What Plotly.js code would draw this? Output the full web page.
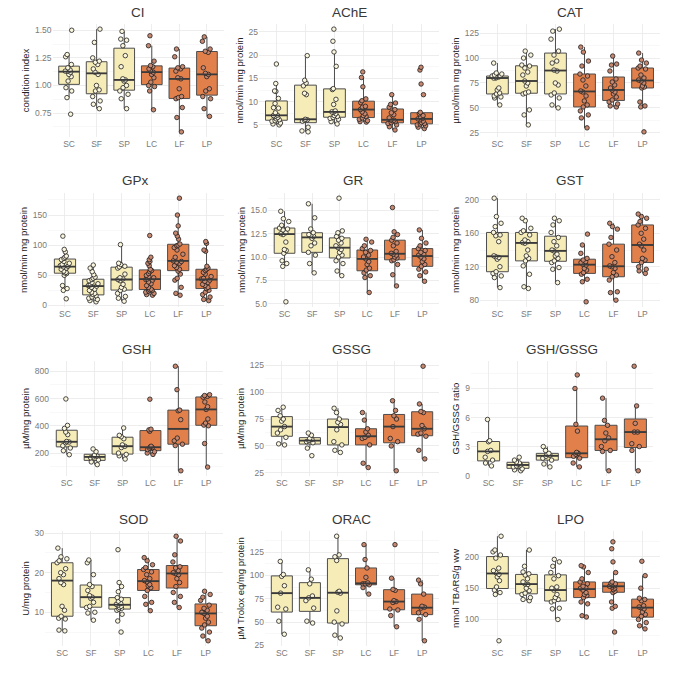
<!DOCTYPE html>
<html>
<head>
<meta charset="utf-8">
<script src="https://cdn.plot.ly/plotly-3.0.1.min.js"></script>
<style>
  html, body { margin: 0; padding: 0; background: #fff; }
  #chart { width: 677px; height: 673px; }
</style>
</head>
<body>
<div id="chart"></div>
<script>
// Groups shown on every panel
const groups = ['SC', 'SF', 'SP', 'LC', 'LF', 'LP'];

// Panel titles and y-axis labels
const panelTitles = ['CI', 'AChE', 'CAT', 'GPx', 'GR', 'GST', 'GSH', 'GSSG', 'GSH/GSSG', 'SOD', 'ORAC', 'LPO'];
const yTitles = ['condition index', 'nmol/min mg protein', 'µmol/min mg protein',
  'nmol/min mg protein', 'nmol/min mg protein', 'nmol/min mg protein',
  'µM/mg protein', 'µM/mg protein', 'GSH/GSSG ratio',
  'U/mg protein', 'µM Trolox eq/mg protein', 'nmol TBARS/g ww'];
const yTickStep = [0.25, 5, 25, 50, 2.5, 40, 200, 25, 3, 10, 25, 50];
const yTickFormat = ['.2f', '', '', '', '.1f', '', '', '', '', '', '', ''];

// Individual measurements, one array per group (SC, SF, SP, LC, LF, LP)
const CI = [
  [1.50, 1.28, 1.26, 1.19, 1.16, 1.14, 1.13, 1.13, 1.12, 1.10, 1.08, 1.04, 0.98, 0.95, 0.89, 0.74],
  [0.79, 0.83, 0.86, 0.90, 0.95, 0.96, 1.00, 1.10, 1.12, 1.15, 1.19, 1.21, 1.22, 1.25, 1.39, 1.51],
  [0.79, 0.88, 0.92, 0.95, 0.98, 1.00, 1.04, 1.05, 1.06, 1.17, 1.27, 1.36, 1.41, 1.42, 1.49],
  [0.78, 0.95, 0.99, 1.00, 1.03, 1.07, 1.10, 1.12, 1.13, 1.15, 1.17, 1.18, 1.22, 1.36, 1.45],
  [0.58, 0.71, 0.80, 0.88, 0.89, 0.90, 0.97, 1.06, 1.07, 1.13, 1.15, 1.16, 1.17, 1.26, 1.33],
  [0.72, 0.79, 0.88, 0.90, 0.95, 0.97, 1.08, 1.10, 1.11, 1.16, 1.30, 1.31, 1.33, 1.40, 1.44]
];
const AChE = [
  [5.0, 5.2, 5.4, 5.8, 5.9, 6.1, 6.3, 6.6, 6.8, 7.0, 7.1, 7.6, 8.6, 8.7, 9.6, 10.7, 12.2, 12.3, 13.9, 18.1],
  [3.5, 3.7, 4.5, 5.8, 6.0, 6.1, 6.2, 11.5, 11.8, 13.4, 14.0, 14.6, 19.9],
  [5.2, 5.7, 6.2, 6.4, 6.6, 6.8, 7.0, 7.4, 7.7, 7.8, 8.0, 9.4, 10.5, 12.6, 12.8, 17.6, 20.7, 23.0, 25.6],
  [5.6, 5.7, 5.9, 6.2, 6.5, 6.8, 7.0, 7.4, 7.8, 8.3, 8.6, 8.8, 9.0, 9.8, 10.2, 10.6, 13.2, 15.2, 16.4],
  [3.9, 4.6, 5.0, 5.3, 5.5, 5.7, 5.9, 6.0, 6.1, 6.5, 7.2, 7.6, 8.3, 8.8, 9.4, 9.7, 11.5],
  [4.2, 4.5, 4.8, 5.0, 5.2, 5.3, 5.5, 5.8, 6.1, 6.3, 6.4, 6.6, 7.0, 7.4, 7.7, 11.5, 13.8, 16.8, 17.4]
];
const CAT = [
  [53, 60, 61, 62, 64, 65, 68, 70, 80, 80, 81, 81, 82, 82, 83, 84, 85, 95],
  [33, 43, 48, 64, 65, 66, 72, 75, 77, 83, 86, 90, 92, 93, 100, 103, 107],
  [50, 53, 60, 63, 65, 73, 75, 87, 88, 95, 97, 103, 107, 119, 127, 129],
  [30, 40, 43, 47, 51, 53, 57, 62, 66, 67, 72, 78, 82, 84, 92, 97, 106, 111],
  [51, 52, 54, 56, 58, 61, 64, 66, 68, 70, 73, 76, 79, 87, 93, 94, 102],
  [26, 51, 52, 56, 70, 71, 72, 75, 77, 78, 80, 83, 89, 90, 92, 95, 98, 105]
];
const GPx = [
  [11, 25, 28, 33, 50, 53, 54, 55, 57, 60, 62, 64, 65, 66, 68, 70, 73, 76, 78, 80, 82, 89, 93, 115],
  [6, 8, 10, 12, 14, 16, 18, 20, 22, 25, 27, 30, 32, 33, 34, 36, 38, 41, 43, 45, 47, 51, 56, 62, 67],
  [7, 12, 15, 20, 25, 27, 30, 35, 41, 43, 44, 46, 52, 62, 64, 65, 68, 70, 101],
  [17, 18, 20, 22, 24, 25, 26, 27, 30, 33, 36, 39, 42, 43, 44, 46, 48, 50, 53, 56, 58, 60, 66, 70, 73, 76, 80, 116],
  [17, 20, 30, 42, 45, 52, 57, 60, 63, 66, 70, 72, 73, 74, 80, 85, 92, 96, 99, 100, 102, 110, 115, 120, 132, 150, 178],
  [8, 10, 14, 18, 22, 25, 28, 30, 33, 35, 38, 40, 42, 44, 45, 48, 52, 55, 58, 60, 62, 65, 90, 92, 103, 106]
];
const GR = [
  [5.2, 9.0, 9.3, 9.6, 10.4, 10.7, 10.8, 11.6, 12.4, 12.5, 12.6, 12.9, 13.0, 13.1, 13.4, 13.8, 14.1, 14.9],
  [8.3, 9.3, 10.2, 10.5, 11.2, 11.5, 12.0, 12.2, 12.3, 12.4, 12.6, 13.0, 14.2, 15.7],
  [8.0, 8.5, 9.3, 9.6, 10.0, 10.2, 10.5, 10.8, 11.0, 11.2, 11.5, 11.8, 12.0, 12.2, 12.6, 12.8, 16.3],
  [6.2, 7.8, 8.0, 8.3, 8.6, 8.8, 9.2, 9.5, 9.8, 10.0, 10.2, 10.5, 10.7, 10.9, 11.2, 11.6, 11.9],
  [6.9, 8.1, 9.2, 9.6, 9.7, 9.9, 10.0, 10.2, 10.3, 10.4, 10.6, 11.2, 11.5, 11.8, 12.1, 12.4, 12.7, 15.3],
  [7.4, 8.0, 8.4, 8.7, 9.0, 9.2, 9.5, 9.8, 10.0, 10.2, 10.3, 10.5, 10.7, 10.9, 11.2, 11.5, 12.0, 12.9]
];
const GST = [
  [95, 107, 109, 112, 114, 120, 129, 131, 132, 133, 150, 157, 158, 161, 168, 172, 180, 202],
  [94, 96, 111, 121, 127, 130, 133, 140, 148, 149, 150, 152, 158, 161, 163, 166, 175, 178],
  [101, 117, 119, 125, 127, 130, 133, 135, 139, 140, 145, 150, 155, 161, 170, 175, 178],
  [78, 102, 105, 111, 113, 116, 118, 122, 123, 125, 126, 128, 130, 136, 146, 159],
  [80, 89, 90, 104, 108, 110, 113, 118, 120, 121, 125, 132, 140, 147, 155, 165, 168, 172],
  [112, 115, 117, 120, 125, 128, 130, 140, 145, 147, 153, 160, 166, 170, 174, 178, 180, 183]
];
const GSH = [
  [188, 217, 237, 254, 276, 281, 285, 335, 354, 381, 403, 597],
  [115, 135, 150, 165, 172, 178, 185, 210, 230],
  [156, 180, 190, 200, 240, 250, 260, 305, 320, 330, 384],
  [190, 200, 210, 225, 235, 240, 245, 250, 360, 370, 375, 595],
  [70, 255, 265, 290, 310, 445, 510, 515, 665, 837],
  [97, 270, 400, 405, 420, 450, 520, 540, 575, 610, 616, 622, 628]
];
const GSSG = [
  [51, 52, 58, 62, 65, 68, 73, 75, 78, 83, 86],
  [41, 48, 53, 54, 55, 56, 57, 60, 62],
  [44, 46, 51, 54, 65, 70, 72, 75, 81, 85],
  [30, 34, 51, 57, 58, 60, 63, 66, 74, 81],
  [27, 50, 54, 57, 68, 75, 78, 83, 92],
  [38, 46, 59, 61, 62, 66, 69, 81, 82, 89, 124]
];
const GSHratio = [
  [1.0, 1.3, 1.6, 1.9, 2.5, 2.6, 3.5, 3.6, 5.8],
  [0.5, 0.6, 0.7, 0.9, 1.0, 1.1, 1.2, 1.3, 1.4, 1.6, 1.9],
  [0.9, 1.2, 1.6, 1.8, 2.0, 2.1, 2.2, 2.3, 2.6, 3.0],
  [0.9, 1.3, 1.8, 2.0, 2.2, 2.3, 2.4, 4.6, 5.3, 9.0, 10.4],
  [0.5, 2.5, 2.6, 3.0, 3.6, 3.9, 4.4, 5.2, 5.7, 8.0],
  [0.5, 2.6, 3.0, 3.3, 4.5, 4.5, 5.4, 7.2, 11.3]
];
const SOD = [
  [5.3, 5.5, 8.3, 8.5, 9.0, 10.5, 11.5, 17.0, 17.5, 18.5, 19.5, 20.0, 21.0, 22.5, 23.0, 23.5, 24.0, 26.2],
  [8.0, 9.8, 10.0, 11.2, 11.5, 12.5, 13.5, 13.8, 14.2, 15.5, 16.5, 17.0, 19.5, 22.5, 23.2],
  [5.0, 7.8, 9.5, 10.5, 10.8, 11.0, 11.2, 11.5, 11.8, 12.0, 12.2, 12.8, 13.3, 13.7, 15.2, 16.5, 17.5, 25.8],
  [10.4, 12.0, 12.5, 14.0, 15.5, 16.2, 16.7, 17.0, 17.7, 18.0, 18.5, 19.5, 20.2, 20.8, 21.3, 22.0, 23.0, 23.8],
  [11.2, 12.5, 14.0, 15.0, 16.5, 17.5, 18.5, 19.5, 19.8, 20.0, 20.5, 21.2, 21.5, 22.7, 24.5, 28.0, 29.2],
  [2.8, 4.0, 5.0, 6.0, 6.8, 7.5, 8.5, 9.0, 9.7, 10.0, 10.5, 11.0, 11.8, 13.0, 13.8, 14.5, 15.3]
];
const ORAC = [
  [37, 51, 64, 66, 81, 89, 99, 101, 115],
  [49, 51, 65, 73, 76, 78, 91, 96, 106],
  [33, 36, 48, 50, 62, 81, 82, 83, 116, 120, 122, 142],
  [80, 87, 90, 91, 91, 92, 98, 108, 117, 133],
  [45, 57, 63, 64, 71, 72, 73, 84, 85, 97, 133],
  [30, 53, 58, 60, 65, 66, 67, 80, 91, 95]
];
const LPO = [
  [66, 140, 143, 147, 152, 162, 168, 172, 175, 178, 182, 198, 203, 208, 211, 233],
  [130, 132, 135, 140, 142, 146, 150, 156, 157, 160, 165, 171, 173, 176, 185, 211],
  [100, 117, 118, 128, 130, 132, 135, 140, 147, 150, 152, 165, 170, 175, 185, 192, 196],
  [104, 106, 125, 128, 135, 138, 140, 143, 147, 150, 151, 153, 157, 160, 165, 175, 184, 186],
  [80, 118, 121, 128, 143, 145, 148, 150, 152, 153, 154, 155, 157, 158, 160, 175, 192, 213, 224],
  [85, 90, 95, 100, 105, 108, 112, 117, 119, 120, 122, 130, 132, 134, 150, 170, 193]
];

const panels = [CI, AChE, CAT, GPx, GR, GST, GSH, GSSG, GSHratio, SOD, ORAC, LPO];

// ---- layout geometry (pixels in a 677 x 673 canvas) ----
const W = 677, H = 673;
const rowPx = [[24, 137], [193, 307], [361, 476], [531, 646]];
const colPx = [
  [52.5, 223.5], [259, 439], [480, 660],
  [48, 223.5], [268, 439], [480, 660],
  [50, 223], [265, 439], [471, 653],
  [45, 223], [265, 439], [480, 660]
];

// styles
const FONT = 'Liberation Sans, Arial, Helvetica, sans-serif';
const lightFill = '#F6ECB7', darkFill = '#E2804B';
const lightPt = '#FBF6DE', darkPt = '#C8876F';
const boxLine = '#4d4d4d';

// quantile with the same interpolation Plotly uses for its boxes
function quant(arr, p) {
  const s = arr.slice().sort((a, b) => a - b);
  const f = p * s.length - 0.5;
  if (f < 0) return s[0];
  if (f > s.length - 1) return s[s.length - 1];
  const fr = f % 1;
  return fr * s[Math.ceil(f)] + (1 - fr) * s[Math.floor(f)];
}

const traces = [];
const shapes = [];
const annotations = [];
const layout = {
  width: W, height: H,
  margin: { l: 0, r: 0, t: 0, b: 0 },
  paper_bgcolor: '#fff', plot_bgcolor: '#fff',
  showlegend: false,
  boxmode: 'overlay',
  font: { family: FONT, color: '#333' }
};

panels.forEach((data, p) => {
  const k = p + 1;
  const xa = 'x' + (k === 1 ? '' : k), ya = 'y' + (k === 1 ? '' : k);
  const xKey = 'xaxis' + (k === 1 ? '' : k), yKey = 'yaxis' + (k === 1 ? '' : k);
  const row = Math.floor(p / 3);
  const [t, b] = rowPx[row];
  const [l, r] = colPx[p];

  const all = data.flat();
  const lo = Math.min(...all), hi = Math.max(...all);
  const pad = (hi - lo) * 0.05;
  const step = yTickStep[p];

  layout[xKey] = {
    domain: [l / W, r / W], anchor: ya,
    type: 'category', categoryarray: groups, categoryorder: 'array',
    range: [-0.6, 5.6], fixedrange: true,
    showgrid: true, gridcolor: '#e8e8e8', gridwidth: 0.8,
    zeroline: false, showline: false, ticks: '',
    tickfont: { size: 8.5, color: '#7a7a7a', family: FONT }
  };
  layout[yKey] = {
    domain: [1 - b / H, 1 - t / H], anchor: xa,
    range: [lo - pad, hi + pad], fixedrange: true,
    tick0: 0, dtick: step, tickformat: yTickFormat[p],
    showgrid: true, gridcolor: '#e8e8e8', gridwidth: 0.8,
    minor: { dtick: step / 2, tick0: 0, showgrid: true, gridcolor: '#f3f3f3', gridwidth: 0.6, ticks: '' },
    zeroline: false, showline: false, ticks: '',
    tickfont: { size: 8.5, color: '#7a7a7a', family: FONT },
    title: { text: yTitles[p], font: { size: 9.5, color: '#222', family: FONT }, standoff: 3 }
  };

  data.forEach((vals, g) => {
    const dark = g >= 3;
    traces.push({
      type: 'box', xaxis: xa, yaxis: ya,
      y: vals, x: vals.map(() => groups[g]), name: groups[g],
      width: 0.75, whiskerwidth: 0,
      fillcolor: dark ? darkFill : lightFill,
      line: { color: boxLine, width: 1 },
      boxpoints: 'all', jitter: 0.5, pointpos: 0,
      marker: { size: 4.5, color: dark ? darkPt : lightPt, line: { color: '#1e1e1e', width: 0.8 } },
      hoverinfo: 'skip'
    });
    const med = quant(vals, 0.5);
    shapes.push({
      type: 'line', xref: xa, yref: ya,
      x0: g - 0.375, x1: g + 0.375, y0: med, y1: med,
      line: { color: '#3a3a3a', width: 1.8 }, layer: 'above'
    });
  });

  annotations.push({
    text: panelTitles[p], showarrow: false,
    xref: 'paper', yref: 'paper',
    x: ((l + r) / 2) / W, y: 1 - (t - 12) / H,
    xanchor: 'center', yanchor: 'middle',
    font: { size: 13.5, color: '#383838', family: FONT }
  });
});

layout.shapes = shapes;
layout.annotations = annotations;

Plotly.newPlot('chart', traces, layout, { displayModeBar: false, staticPlot: true });
</script>
</body>
</html>
